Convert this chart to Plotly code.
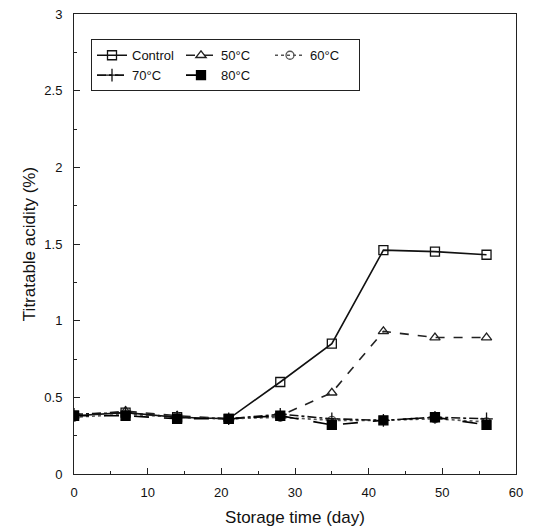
import plotly.graph_objects as go

days = [0, 7, 14, 21, 28, 35, 42, 49, 56]
control = [0.38, 0.40, 0.37, 0.36, 0.60, 0.85, 1.46, 1.45, 1.43]
c50 = [0.38, 0.41, 0.38, 0.36, 0.38, 0.53, 0.93, 0.89, 0.89]
c60 = [0.37, 0.39, 0.37, 0.36, 0.37, 0.35, 0.35, 0.36, 0.34]
c70 = [0.39, 0.40, 0.37, 0.36, 0.39, 0.36, 0.35, 0.37, 0.36]
c80 = [0.38, 0.38, 0.36, 0.36, 0.38, 0.32, 0.35, 0.37, 0.32]

series = [
    ("Control", control, "solid", "square-open", "#111", 9),
    ("50°C", c50, "dash", "triangle-up-open", "#222", 9),
    ("60°C", c60, "dot", "circle-open", "#555", 8),
    ("70°C", c70, "dashdot", "cross-thin-open", "#111", 9),
    ("80°C", c80, "longdash", "square", "#000", 9),
]

fig = go.Figure()
for name, vals, dash, sym, col, sz in series:
    fig.add_trace(go.Scatter(
        x=days, y=vals, name=name, mode="lines+markers",
        line=dict(color=col, width=1.6, dash=dash),
        marker=dict(symbol=sym, size=sz, color=col, line=dict(color=col, width=1.3)),
    ))

font = "Liberation Sans, Arial, sans-serif"
fig.update_layout(
    width=536, height=528,
    margin=dict(l=66, r=28, t=6, b=62),
    paper_bgcolor="white", plot_bgcolor="white",
    font=dict(family=font, size=13, color="#111"),
    showlegend=True,
    legend=dict(
        orientation="h", x=0.05, y=0.945, xanchor="left", yanchor="top",
        bordercolor="#222", borderwidth=1, bgcolor="white",
        font=dict(size=13), itemwidth=30, entrywidth=44,
    ),
    xaxis=dict(
        range=[0, 60], tickvals=[0, 10, 20, 30, 40, 50, 60],
        ticks="inside", ticklen=6, tickcolor="#222", automargin=False,
        ticklabelstandoff=6, ticklabeloverflow="allow",
        minor=dict(ticks="inside", ticklen=3, dtick=5, tickcolor="#222"),
        showline=True, linecolor="#222", mirror=True, showgrid=False, zeroline=False,
        title=dict(text="Storage time (day)", font=dict(size=17), standoff=12),
    ),
    yaxis=dict(
        range=[0, 3], tickvals=[0, 0.5, 1, 1.5, 2, 2.5, 3],
        ticktext=["0", "0.5", "1", "1.5", "2", "2.5", "3"],
        ticks="inside", ticklen=6, tickcolor="#222", automargin=False,
        ticklabelstandoff=8, ticklabeloverflow="allow",
        minor=dict(ticks="inside", ticklen=3, dtick=0.25, tickcolor="#222"),
        showline=True, linecolor="#222", mirror=True, showgrid=False, zeroline=False,
        title=dict(text="Titratable acidity (%)", font=dict(size=17), standoff=4),
    ),
)

fig.write_html("out.html")
